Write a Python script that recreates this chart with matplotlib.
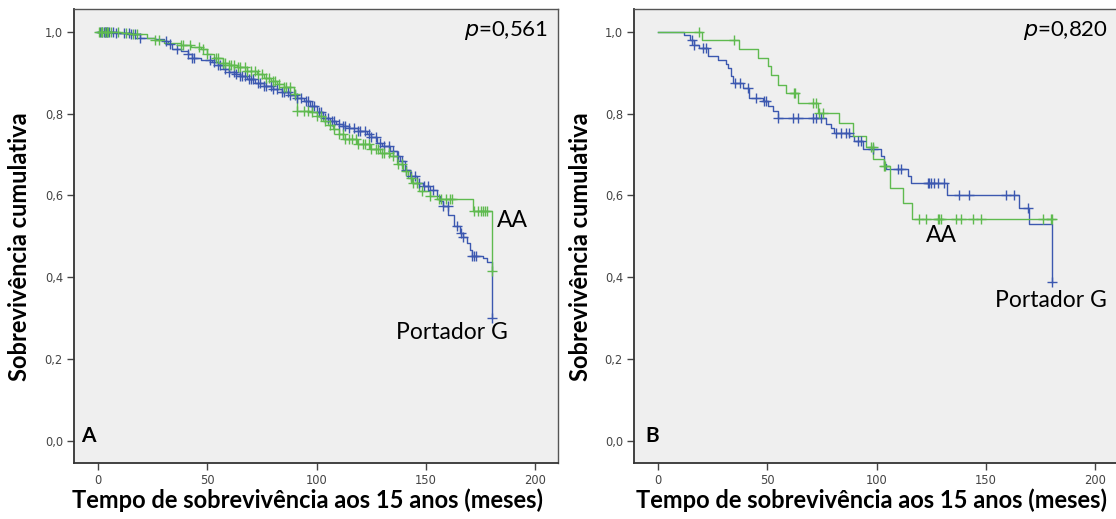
import numpy as np
import matplotlib
matplotlib.use("Agg")
import matplotlib.pyplot as plt

# ---------------- data ----------------
x_ticks = [0, 50, 100, 150, 200]
y_ticks = [0.0, 0.2, 0.4, 0.6, 0.8, 1.0]
y_tick_labels = ["0,0", "0,2", "0,4", "0,6", "0,8", "1,0"]
x_label = "Tempo de sobrevivência aos 15 anos (meses)"
y_label = "Sobrevivência cumulativa"
group_names = ["AA", "Portador G"]

# Panel A - Portador G (blue): event times and survival after each event
a_g_event_t = [8, 15, 19, 26, 30, 32, 34, 38, 41, 43, 47, 52, 55, 57, 60, 63, 65, 68, 72,
               76, 80, 84, 88, 91, 94, 97, 100, 103, 106, 109, 112, 115, 119, 123, 125,
               127.5, 130, 133.6, 136.7, 138.2, 140.5, 142.7, 145.8, 148.8, 151.9, 154.9,
               156.5, 158, 160.3, 162.6, 165.6, 167, 168.7, 170.2, 171, 176.3, 178, 180]
a_g_event_s = [0.997, 0.994, 0.986, 0.982, 0.978, 0.970, 0.959, 0.952, 0.945, 0.935, 0.931,
               0.926, 0.918, 0.909, 0.903, 0.897, 0.892, 0.884, 0.876, 0.868, 0.860, 0.853,
               0.845, 0.838, 0.832, 0.818, 0.805, 0.790, 0.781, 0.774, 0.770, 0.766, 0.758,
               0.750, 0.742, 0.729, 0.720, 0.709, 0.696, 0.684, 0.663, 0.647, 0.631, 0.623,
               0.614, 0.598, 0.585, 0.574, 0.553, 0.525, 0.508, 0.497, 0.484, 0.467, 0.451,
               0.447, 0.438, 0.300]
a_g_censor_t = [1, 2, 2.5, 3, 3.5, 4, 5, 7, 8, 12, 14, 15, 17, 19, 31, 33, 36, 41, 43, 44,
                51, 53, 55, 56, 58, 60, 62, 63, 65, 66, 67, 69, 70, 71, 73, 74, 76, 77, 79,
                80, 82, 84, 85, 87, 88, 90, 91, 93, 95, 96, 98, 99, 101, 102, 104, 105, 107,
                108, 110, 112, 113, 115, 117, 119, 120, 122, 124, 125, 127, 129, 131, 133,
                135, 137, 139, 141, 143, 145, 147, 149, 151, 153, 158, 160, 164, 166, 167,
                171, 172, 173, 180]

# Panel A - AA (green)
a_aa_event_t = [10, 15, 22.6, 26, 30, 37.8, 42.4, 47, 50, 53, 57, 60, 63.7, 68, 72.9, 76,
                79, 82, 85, 89.6, 91, 97, 100, 103, 105, 107.6, 110, 112.2, 118.3, 124.4,
                129, 133.6, 136.7, 139.7, 142, 143.5, 146.6, 151.9, 154.9, 171.3, 180]
a_aa_event_s = [0.997, 0.994, 0.986, 0.980, 0.974, 0.967, 0.964, 0.958, 0.945, 0.935,
                0.925, 0.919, 0.913, 0.905, 0.896, 0.888, 0.880, 0.872, 0.864, 0.847, 0.806,
                0.803, 0.793, 0.782, 0.772, 0.762, 0.750, 0.737, 0.725, 0.713, 0.704, 0.696,
                0.676, 0.659, 0.643, 0.631, 0.610, 0.598, 0.590, 0.562, 0.415]
a_aa_censor_t = [0.5, 1.5, 2, 3, 4, 4.5, 6, 9, 13, 16, 18, 26, 28, 38, 39, 42, 46, 48, 50,
                 54, 55, 57, 58, 60, 61, 62, 64, 65, 67, 68, 70, 72, 73, 75, 77, 78, 80, 81,
                 83, 85, 86, 88, 90, 91, 94, 96, 98, 100, 102, 104, 106, 108, 110, 112, 113,
                 115, 116, 118, 119, 121, 122, 124, 125, 127, 128, 130, 131, 133, 135, 137,
                 139, 141, 143, 144, 146, 148, 152, 156, 157, 159, 161, 162, 172, 174, 175,
                 176, 177, 178, 180]

# Panel B - Portador G (blue)
b_g_event_t = [12.0, 14.6, 16.6, 18.9, 22.7, 27.3, 31.1, 32.2, 33.4, 34.5, 38.7, 41.8,
               47.9, 50.2, 52.4, 54.7, 76.9, 79.2, 80.7, 87.5, 89.7, 93.6, 102.0, 103.5,
               104.3, 114.2, 115.7, 132.0, 164.9, 169.8, 180]
b_g_event_s = [0.992, 0.981, 0.969, 0.961, 0.940, 0.930, 0.922, 0.912, 0.892, 0.875,
               0.863, 0.839, 0.831, 0.818, 0.806, 0.789, 0.774, 0.766, 0.753, 0.745,
               0.733, 0.713, 0.696, 0.676, 0.664, 0.647, 0.629, 0.601, 0.568, 0.531, 0.387]
b_g_censor_t = [15.5, 16.6, 20.4, 21.9, 35.4, 37.5, 41.0, 44.8, 48.6, 49.4, 54.7, 61.6,
                63.9, 70.7, 72.3, 74.5, 81.4, 83.7, 86.0, 87.2, 91.3, 92.9, 98.2, 109.6,
                111.2, 123.3, 124.1, 124.9, 126.4, 127.9, 131.0, 137.8, 142.4, 159.2,
                163.0, 169.1, 180]

# Panel B - AA (green)
b_aa_event_t = [19.9, 36.9, 45.6, 50.2, 51.5, 54.8, 58.6, 64.2, 73.0, 82.9, 89.0, 95.1,
                98.5, 103.5, 106.0, 111.9, 116.0]
b_aa_event_s = [0.980, 0.957, 0.937, 0.916, 0.894, 0.871, 0.851, 0.827, 0.802, 0.778,
                0.745, 0.718, 0.688, 0.672, 0.619, 0.582, 0.543]
b_aa_censor_t = [18.9, 34.9, 62.4, 62.7, 70.7, 72.3, 73.8, 75.3, 97.4, 98.2, 103.5, 104.0,
                 119.5, 122.6, 127.9, 128.7, 129.4, 136.3, 138.6, 143.9, 147.8, 175.9,
                 179.8, 180]
b_aa_end_t = 180

p_values = ["0,561", "0,820"]
panel_letters = ["A", "B"]

# ---------------- style ----------------
BLUE = "#3c58b0"
GREEN = "#5fba4f"
BG = "#efefef"
LABEL_FONT = ["Lato", "DejaVu Sans"]
TICK_FONT = ["DejaVu Sans"]

W, H = 1116, 519
fig = plt.figure(figsize=(W / 100, H / 100), dpi=100)
fig.patch.set_facecolor("white")


def km_step(ev_t, ev_s, end_t=None):
    t = [0.0] + list(ev_t)
    s = [1.0] + list(ev_s)
    if end_t is not None and end_t > t[-1]:
        t.append(end_t)
        s.append(s[-1])
    return np.array(t), np.array(s)


def surv_at(ev_t, ev_s, times):
    ev_t = np.asarray(ev_t)
    ev_s = np.asarray(ev_s)
    out = []
    for tt in times:
        idx = np.searchsorted(ev_t, tt, side="right") - 1
        out.append(1.0 if idx < 0 else ev_s[idx])
    return np.array(out)


def draw_group(ax, ev_t, ev_s, cen_t, color, end_t=None):
    t, s = km_step(ev_t, ev_s, end_t)
    ax.step(t, s, where="post", color=color, lw=1.0, zorder=3)
    cy = surv_at(ev_t, ev_s, cen_t)
    ax.plot(cen_t, cy, ls="none", marker="+", ms=6.5, mew=1.0, color=color, zorder=4)


panels = [
    dict(left=74, g=(a_g_event_t, a_g_event_s, a_g_censor_t, None),
         aa=(a_aa_event_t, a_aa_event_s, a_aa_censor_t, None),
         aa_pos=(189.4, 0.538), g_pos=(161.9, 0.264), letter_pos=(-4.6, 0.012),
         ylab_x=20, xlab_x=307.5),
    dict(left=634, g=(b_g_event_t, b_g_event_s, b_g_censor_t, None),
         aa=(b_aa_event_t, b_aa_event_s, b_aa_censor_t, b_aa_end_t),
         aa_pos=(129.6, 0.501), g_pos=(179.5, 0.342), letter_pos=(-2.6, 0.010),
         ylab_x=581, xlab_x=872),
]

for i, P in enumerate(panels):
    ax = fig.add_axes([P["left"] / W, (H - 463) / H, 484 / W, 454 / H])
    ax.set_facecolor(BG)
    ax.set_xlim(-11, 210.4)
    ax.set_ylim(-0.055, 1.056)
    for sp in ["top", "right"]:
        ax.spines[sp].set_color("#555555")
        ax.spines[sp].set_linewidth(1.0)
    for sp in ["left", "bottom"]:
        ax.spines[sp].set_color("#333333")
        ax.spines[sp].set_linewidth(1.3)
    ax.set_xticks(x_ticks)
    ax.set_xticklabels([str(v) for v in x_ticks], family=TICK_FONT, fontsize=8.3,
                       color="#444444")
    ax.set_yticks(y_ticks)
    ax.set_yticklabels(y_tick_labels, family=TICK_FONT, fontsize=8.3, color="#444444")
    ax.tick_params(direction="out", length=5, width=1.0, color="#444444", pad=3)

    draw_group(ax, *P["g"][:3], BLUE, P["g"][3])
    draw_group(ax, *P["aa"][:3], GREEN, P["aa"][3])

    ax.text(205.8, 1.004, "$p$=" + p_values[i], ha="right", va="center",
            family=LABEL_FONT, fontsize=16, color="black")
    ax.text(*P["aa_pos"], group_names[0], ha="center", va="center",
            family=LABEL_FONT, fontsize=16.5, color="black")
    ax.text(*P["g_pos"], group_names[1], ha="center", va="center",
            family=LABEL_FONT, fontsize=16.5, color="black")
    ax.text(*P["letter_pos"], panel_letters[i], ha="center", va="center",
            family=LABEL_FONT, fontsize=15, fontweight="bold", color="black")

    fig.text(P["ylab_x"] / W, 1 - 247 / H, y_label, rotation=90, ha="center",
             va="center", family=LABEL_FONT, fontsize=17, fontweight="bold")
    fig.text(P["xlab_x"] / W, 1 - 500 / H, x_label, ha="center", va="center",
             family=LABEL_FONT, fontsize=17, fontweight="bold")

fig.savefig("out.png", dpi=100, facecolor="white")
